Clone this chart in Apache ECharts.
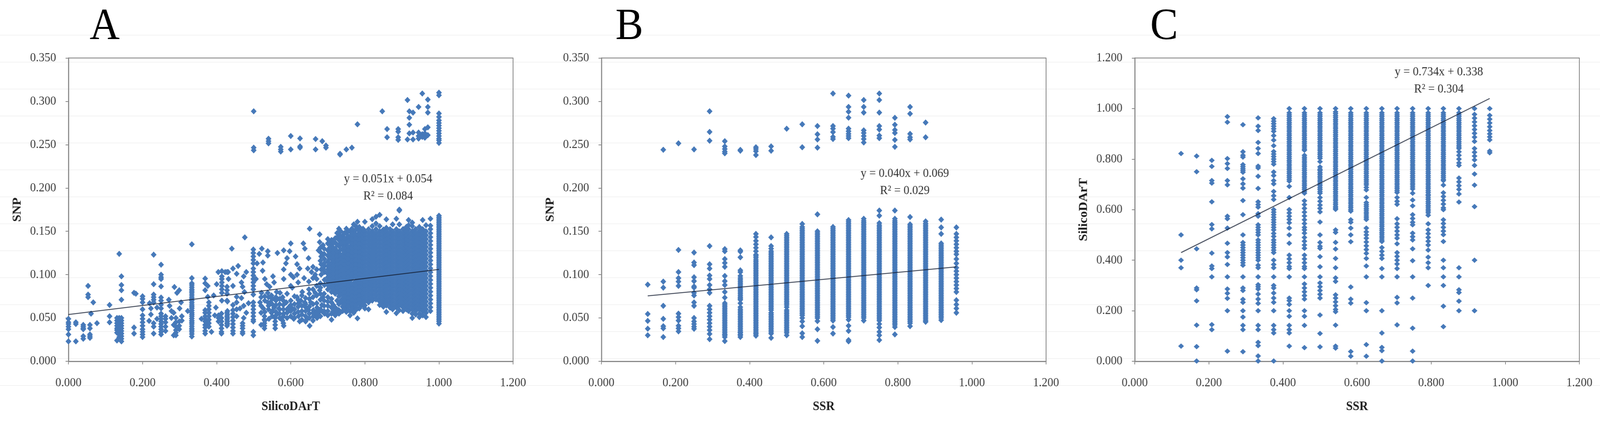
<!DOCTYPE html>
<html><head><meta charset="utf-8">
<style>html,body{margin:0;padding:0;background:#fff;overflow:hidden;width:100%;height:100%}#c{width:4419px;height:1083px;transform-origin:0 0}</style>
<script src="https://cdn.jsdelivr.net/npm/echarts@6/dist/echarts.min.js"></script>
</head><body><div id="c"></div>
<script>
const trendA=[[0,.054],[1,.106]];
const trendB=[[.125,.0755],[.958,.109]];
const trendC=[[.125,.43],[.958,1.04]];
const eqA=['y = 0.051x + 0.054','R² = 0.084'];
const eqB=['y = 0.040x + 0.069','R² = 0.029'];
const eqC=['y = 0.734x + 0.338','R² = 0.304'];
// A: SNP vs SilicoDArT, upper cluster
const dartSnpUpper=[[.5,[.2885,.2465,.2435]],[.54,[.2568,.2515,.254]],[.573,[.2475,.2445,.242]],[.6,[.26,.2445]],[.625,[.2572,.248,.2465]],[.667,[.2565,.2445]],[.685,[.254]],[.695,[.249,.2465]],[.733,[.2395,.2385]],[.75,[.2445]],[.765,[.2465]],[.78,[.2735]],[.847,[.2885]],[.86,[.268,.2585]],[.89,[.268,.265,.2585,.2555]],[.915,[.3015,.256]],[.92,[.2885,.281,.273,.263]],[.93,[.287,.264,.256]],[.945,[.2935,.264,.26,.257]],[.955,[.309,.262,.259]],[.962,[.268,.263,.258]],[.97,[.302,.2935,.287,.27,.261]],[1,[.31,.307,.286,.282,.278,.275,.272,.269,.266,.263,.26,.257,.255,.252]]];
// A: sparse low range
const dartSnpLow=[[0,[.049,.045,.043,.04,.037,.031,.023]],[.02,[.045,.043,.023]],[.04,[.042,.04,.038,.037,.029,.026]],[.053,[.087,.077,.074]],[.058,[.042,.038,.031,.029,.027]],[.061,[.055]],[.067,[.068]],[.077,[.044]],[.111,[.065,.052,.045]],[.131,[.05,.047,.044,.041,.038,.036,.033,.024]],[.137,[.124,.05,.047,.043,.039,.035,.031,.028]],[.143,[.098,.088,.082,.071,.05,.047,.044,.041,.038,.035,.032,.029,.026,.023]],[.177,[.079,.039,.032]],[.182,[.078]],[.2,[.075,.072,.068,.06,.053,.049,.045,.041,.037,.034,.031,.028]],[.219,[.067]],[.2226,[.061,.054]],[.2177,[.0466]],[.23,[.123,.089,.077,.074,.071,.068,.044,.04,.032]],[.239,[.062,.049]],[.25,[.1115,.1,.097,.095,.0864,.0736,.07,.0654,.061,.055,.052,.049,.046,.043,.04,.037,.034,.031]],[.262,[.052,.049,.045,.04,.035]],[.271,[.071]],[.273,[.064]],[.278,[.058,.05]],[.284,[.056,.042,.03]],[.286,[.0857]],[.29,[.05,.045,.04,.036,.033,.03]],[.293,[.079]],[.299,[.082,.046,.041,.037]],[.3,[.061]],[.304,[.068]],[.306,[.052,.047]],[.322,[.058]],[.333,[.135,.096,.09,.0855,.081,.0765,.072,.0675,.063,.0585,.054,.0495,.045,.0405,.036,.0315,.0286,.088,.083,.079,.074,.07,.065,.061,.056,.052,.047,.043,.038,.034]],[.359,[.049]],[.369,[.0955,.09,.082,.059,.056,.052,.049,.046,.042,.039,.035,.032]],[.376,[.087,.0744]],[.379,[.068,.064,.06,.056,.052,.048,.044,.04]],[.386,[.034]],[.392,[.076]],[.395,[.053]],[.398,[.062]],[.4,[.089]],[.4045,[.103]],[.405,[.053,.05,.046]],[.413,[.055,.05,.046,.042,.038,.034,.032]],[.414,[.104,.098,.095,.091,.087,.083,.079,.07]],[.423,[.103]],[.428,[.103,.086,.082,.078,.07,.056,.052,.048,.044,.041]],[.429,[.069,.058,.054,.05,.046,.043]],[.431,[.103]],[.432,[.095]],[.441,[.13]],[.444,[.107,.087,.065,.059,.055,.051,.047,.043,.039,.035,.032]],[.454,[.101,.0744,.068,.06,.052]],[.458,[.11]],[.463,[.061]],[.467,[.091,.073]],[.47,[.086,.044,.041,.038,.034,.032]],[.473,[.098,.064,.05]],[.475,[.08]],[.476,[.143]],[.48,[.103,.056]],[.486,[.067]],[.499,[.129,.125,.121,.117,.113,.107,.103,.099,.095,.091,.087,.083,.077,.068,.064,.06,.056,.052,.048,.046,.034,.03]],[.506,[.095]],[.509,[.113]],[.515,[.124]],[.517,[.068]],[.521,[.079]],[.522,[.13]],[.524,[.1045]],[.525,[.114]],[.526,[.061]],[.529,[.052,.048,.044,.041,.038]],[.53,[.095]],[.535,[.089]],[.538,[.127,.122,.079,.068]],[.541,[.049]],[.543,[.086]],[.545,[.068]],[.548,[.076,.056]],[.552,[.098]],[.555,[.091,.062]],[.558,[.05,.046,.042,.038]],[.562,[.08]],[.564,[.125]],[.568,[.061]],[.571,[.079]],[.578,[.074,.047]],[.581,[.128,.106,.095,.055,.041]],[.588,[.068]],[.59,[.119]],[.587,[.113]],[.594,[.062]],[.597,[.127]],[.6,[.136,.1,.087]],[.604,[.085,.061]],[.607,[.097]],[.608,[.049]],[.613,[.121]],[.617,[.112,.1,.074]],[.62,[.091]],[.621,[.067,.052]],[.624,[.107,.046]],[.627,[.07]],[.631,[.08]],[.634,[.136]],[.636,[.096]],[.638,[.13,.068]],[.641,[.062]],[.644,[.049]],[.646,[.107]],[.648,[.119,.059]],[.649,[.092,.083]],[.651,[.153,.041]],[.654,[.068]],[.656,[.103]],[.661,[.059,.052]],[.666,[.1,.079]],[.671,[.062,.05]],[.674,[.056]],[.675,[.128]],[.678,[.1465,.1375,.082]],[.682,[.121,.112,.106,.1]],[.684,[.065,.058]],[.687,[.134,.074,.107]],[.691,[.055,.118,.11,.103,.094,.088]]];
// A: further points in the lower band and around the start of the block
const dartSnpBand=[[.52,[.074,.064,.056,.042]],[.53,[.075,.07,.057,.047]],[.54,[.074,.064,.06]],[.55,[.072,.066,.058,.052]],[.56,[.074,.07,.065,.057,.053]],[.57,[.072,.066,.06,.055,.05]],[.58,[.07,.065,.06,.052,.044]],[.59,[.078,.06,.056,.05]],[.6,[.07,.065,.058,.052]],[.61,[.075,.066,.06,.055,.05]],[.62,[.071,.063,.057]],[.63,[.076,.064,.058,.054,.048]],[.64,[.073,.066,.058,.052,.046]],[.65,[.078,.072,.063,.055,.05]],[.66,[.109,.096,.083,.074,.066,.056,.047]],[.67,[.106,.095,.087,.076,.067,.058,.054]],[.68,[.131,.126,.116,.09,.085,.078,.071,.06,.052]],[.69,[.13,.124,.113,.078,.07,.064,.058]]];
// A: transition towards dense block
const dartSnpMid=[[.7,[.141,.136,.128,.122,.115,.11,.106,.101,.097,.092,.088,.083,.074,.069,.064,.058,.053]],[.71,[.14,.134,.128,.123,.118,.113,.108,.104,.099,.094,.09,.086,.08,.072,.068,.062,.055,.048]],[.72,[.142,.137,.13,.124,.119,.114,.11,.105,.1,.096,.091,.087,.083,.078,.062,.057,.053]],[.73,[.153,.146,.14,.133,.125,.12,.116,.111,.106,.102,.097,.092,.088,.084,.079,.075,.066,.059,.055]],[.74,[.145,.139,.134,.129,.123,.118,.114,.109,.104,.099,.095,.09,.086,.081,.077,.072,.067,.063,.058]],[.75,[.153,.148,.141,.135,.13,.125,.12,.115,.11,.105,.1,.094,.089,.084,.08,.075,.07,.066,.061,.057]],[.76,[.15,.143,.138,.132,.127,.122,.117,.112,.107,.103,.098,.093,.087,.083,.078,.074,.069,.064,.058,.053]],[.77,[.158,.149,.144,.139,.134,.129,.124,.119,.114,.109,.104,.1,.09,.085,.08,.076,.071,.067,.062,.056]],[.78,[.161,.154,.146,.141,.136,.131,.126,.121,.116,.111,.106,.101,.096,.091,.086,.082,.077,.072,.067,.061,.0496]],[.79,[.152,.148,.143,.138,.133,.128,.123,.118,.113,.108,.103,.099,.094,.089,.084,.079,.074,.069,.064]]];
const dartSnpMidFill=[[.705,[.138,.131,.125,.119,.1125,.108,.1035,.099,.0945,.09,.085]],[.715,[.137,.131,.1255,.1205,.1155,.1105,.106,.1015,.0965,.092,.088,.083,.065,.058]],[.725,[.148,.143,.1345,.127,.1215,.1165,.112,.1075,.1025,.098,.0935,.089,.085,.0805,.07,.06]],[.735,[.15,.143,.1365,.129,.1225,.118,.1135,.1085,.104,.0995,.0945,.09,.086,.0815,.077,.07,.057]],[.745,[.148,.142,.1365,.1315,.126,.1205,.116,.1115,.1065,.1015,.097,.092,.088,.0835,.079,.0745,.0695,.065,.06]],[.755,[.15,.1445,.138,.1325,.1275,.1225,.1175,.1125,.1075,.1025,.097,.0915,.0865,.082,.0775,.0725,.068,.0635,.059]],[.765,[.153,.1465,.141,.1355,.1305,.1255,.1205,.1155,.1105,.106,.101,.0955,.0885,.0835,.0785,.075,.07,.0655,.06]],[.775,[.156,.1515,.1465,.1415,.1365,.1315,.1265,.1215,.1165,.1115,.1065,.102,.0975,.0925,.0875,.083,.0785,.0735,.069,.0645,.059]],[.785,[.155,.15,.1455,.1405,.1355,.1305,.1255,.1205,.1155,.1105,.1055,.1005,.0955,.0905,.0855,.081,.0755,.0705,.066,.061]],[.795,[.153,.1485,.1435,.1385,.1335,.1285,.1235,.1185,.1135,.1085,.1035,.0985,.0935,.0885,.0835,.0785,.0735,.0685,.065]]];
// A: dense block
const dartSnpDense=[[.8,[.161,.15,.1455,.141,.1365,.132,.1275,.123,.1185,.114,.1095,.105,.1005,.096,.0915,.087,.0825,.078,.0735,.069,.0645,.061]],[.81,[.1525,.1478,.1433,.1388,.1343,.1298,.1253,.1208,.1163,.1118,.1073,.1028,.0983,.0938,.0893,.0848,.0803,.0758,.0713,.068,.06]],[.82,[.164,.156,.15,.1455,.141,.1365,.132,.1275,.123,.1185,.114,.1095,.105,.1005,.096,.0915,.087,.0825,.078,.0735,.07]],[.83,[.1668,.159,.1525,.1478,.1433,.1388,.1343,.1298,.1253,.1208,.1163,.1118,.1073,.1028,.0983,.0938,.0893,.0848,.0803,.0758,.0713]],[.84,[.169,.156,.15,.1455,.141,.1365,.132,.1275,.123,.1185,.114,.1095,.105,.1005,.096,.0915,.087,.0825,.078,.0735,.069,.065]],[.85,[.152,.1478,.1433,.1388,.1343,.1298,.1253,.1208,.1163,.1118,.1073,.1028,.0983,.0938,.0893,.0848,.0803,.0758,.0713,.0668,.063]],[.858,[.1638,.154,.15,.1455,.141,.1365,.132,.1275,.123,.1185,.114,.1095,.105,.1005,.096,.0915,.087,.0825,.078,.0735,.069,.0645,.057]],[.868,[.1525,.1478,.1433,.1388,.1343,.1298,.1253,.1208,.1163,.1118,.1073,.1028,.0983,.0938,.0893,.0848,.0803,.0758,.0713,.0668,.062]],[.875,[.158,.15,.1455,.141,.1365,.132,.1275,.123,.1185,.114,.1095,.105,.1005,.096,.0915,.087,.0825,.078,.0735,.069,.0645,.06]],[.885,[.1645,.1525,.1478,.1433,.1388,.1343,.1298,.1253,.1208,.1163,.1118,.1073,.1028,.0983,.0938,.0893,.0848,.0803,.0758,.0713,.0668,.0623,.0555]],[.893,[.175,.174,.158,.15,.1455,.141,.1365,.132,.1275,.123,.1185,.114,.1095,.105,.1005,.096,.0915,.087,.0825,.078,.0735,.069,.0645,.059]],[.903,[.1525,.1478,.1433,.1388,.1343,.1298,.1253,.1208,.1163,.1118,.1073,.1028,.0983,.0938,.0893,.0848,.0803,.0758,.0713,.0668,.0623,.058]],[.912,[.155,.15,.1455,.141,.1365,.132,.1275,.123,.1185,.114,.1095,.105,.1005,.096,.0915,.087,.0825,.078,.0735,.069,.0645,.06]],[.918,[.163,.157,.1525,.1478,.1433,.1388,.1343,.1298,.1253,.1208,.1163,.1118,.1073,.1028,.0983,.0938,.0893,.0848,.0803,.0758,.0713,.0668,.0623,.058]],[.928,[.16,.156,.15,.1455,.141,.1365,.132,.1275,.123,.1185,.114,.1095,.105,.1005,.096,.0915,.087,.0825,.078,.0735,.069,.0645,.06,.055,.05]],[.937,[.1525,.1478,.1433,.1388,.1343,.1298,.1253,.1208,.1163,.1118,.1073,.1028,.0983,.0938,.0893,.0848,.0803,.0758,.0713,.0668,.0623,.058,.054]],[.947,[.155,.15,.1455,.141,.1365,.132,.1275,.123,.1185,.114,.1095,.105,.1005,.096,.0915,.087,.0825,.078,.0735,.069,.0645,.06,.055,.051]],[.956,[.163,.1525,.1478,.1433,.1388,.1343,.1298,.1253,.1208,.1163,.1118,.1073,.1028,.0983,.0938,.0893,.0848,.0803,.0758,.0713,.0668,.0623,.058,.053]],[.965,[.157,.15,.1455,.141,.1365,.132,.1275,.123,.1185,.114,.1095,.105,.1005,.096,.0915,.087,.0825,.078,.0735,.069,.0645,.06,.056,.051]],[.977,[.1645,.1565,.1525,.1478,.1433,.1388,.1343,.1298,.1253,.1208,.1163,.1118,.1073,.1028,.0983,.0938,.0893,.0848,.0803,.0758,.0713,.0668,.0623,.058]],[1,[.168,.164,.16,.156,.152,.148,.144,.14,.136,.132,.128,.124,.12,.116,.112,.108,.104,.1,.096,.092,.088,.084,.08,.076,.072,.068,.064,.06,.056,.052,.048,.0435,.166,.162,.158,.154,.15,.146,.142,.138,.134,.13,.126,.122,.118,.114,.11,.106,.102,.098,.094,.09,.086,.082,.078,.074,.07,.066,.062,.058,.054,.05,.046]]];
// B: SNP vs SSR
const ssrSnp=[[.125,[.0885,.0546,.0466,.0376,.03]],[.167,[.092,.085,.064,.049,.0405,.038,.028,.2441]],[.208,[.1285,.103,.096,.092,.087,.055,.051,.047,.041,.038,.0345,.2515]],[.25,[.1255,.114,.111,.097,.0925,.0864,.085,.079,.076,.068,.064,.05,.046,.043,.04,.0375,.2445]],[.292,[.133,.112,.107,.099,.095,.088,.083,.079,.064,.06,.056,.052,.048,.044,.04,.036,.0316,.0255,.2885,.2647,.2545]],[.333,[.1295,.127,.118,.1135,.109,.0985,.0925,.088,.08,.0735,.067,.063,.059,.055,.051,.047,.043,.039,.035,.031,.028,.0233,.254,.248,.245,.242,.24]],[.375,[.128,.1265,.12,.105,.103,.0985,.094,.09,.086,.082,.078,.074,.071,.067,.0625,.058,.054,.05,.046,.042,.038,.034,.031,.028,.244,.243]],[.417,[.147,.1435,.139,.135,.131,.127,.123,.1195,.115,.111,.107,.103,.099,.095,.091,.087,.083,.079,.075,.071,.067,.063,.059,.055,.051,.047,.043,.039,.035,.0315,.0295,.247,.245,.2425,.238]],[.458,[.143,.133,.13,.127,.123,.119,.115,.111,.107,.103,.099,.095,.091,.087,.083,.079,.075,.071,.067,.063,.059,.056,.052,.048,.044,.04,.036,.032,.027,.248,.243]],[.5,[.147,.143,.139,.135,.131,.127,.123,.119,.115,.111,.107,.103,.099,.095,.091,.087,.083,.079,.075,.071,.067,.0625,.059,.055,.051,.047,.043,.039,.035,.03,.2684]],[.542,[.1585,.155,.151,.147,.143,.139,.135,.131,.127,.123,.119,.115,.111,.107,.103,.099,.095,.091,.087,.083,.079,.075,.071,.067,.063,.059,.055,.05,.046,.0405,.0323,.028,.2735,.247]],[.583,[.1696,.15,.146,.142,.138,.134,.13,.126,.122,.118,.114,.11,.106,.102,.098,.094,.09,.086,.082,.078,.074,.07,.066,.062,.058,.054,.05,.0464,.037,.0236,.2715,.262,.256,.2465]],[.625,[.155,.151,.147,.143,.139,.135,.131,.127,.123,.119,.115,.111,.107,.103,.099,.095,.091,.087,.083,.079,.075,.071,.067,.063,.059,.055,.051,.047,.0395,.032,.309,.2715,.2685,.2645,.259,.2565]],[.667,[.163,.159,.155,.151,.147,.143,.139,.135,.131,.127,.123,.119,.115,.111,.107,.103,.099,.095,.091,.087,.083,.079,.075,.071,.067,.063,.059,.055,.051,.048,.041,.035,.0245,.023,.3066,.2936,.288,.2811,.2685,.2655,.2625,.26,.2575]],[.708,[.1645,.16,.156,.152,.148,.144,.14,.136,.132,.128,.124,.12,.116,.112,.108,.104,.1,.096,.092,.088,.084,.08,.076,.072,.068,.064,.06,.056,.052,.047,.3015,.2936,.287,.2665,.2635,.26,.2565,.2525]],[.75,[.174,.168,.1595,.155,.151,.147,.143,.139,.135,.131,.127,.123,.119,.115,.111,.107,.103,.099,.095,.091,.087,.083,.079,.075,.071,.067,.063,.059,.055,.051,.047,.043,.039,.034,.03,.0245,.309,.3015,.287,.2715,.2675,.2605,.2575]],[.792,[.174,.1645,.16,.156,.152,.148,.144,.14,.136,.132,.128,.124,.12,.116,.112,.108,.104,.1,.096,.092,.088,.084,.08,.076,.072,.068,.064,.06,.056,.052,.048,.044,.0395,.031,.281,.273,.267,.2635,.2555,.2475]],[.833,[.1665,.158,.154,.15,.146,.142,.138,.134,.13,.126,.122,.118,.114,.11,.106,.102,.098,.094,.09,.086,.082,.078,.074,.07,.066,.062,.058,.054,.05,.046,.0405,.2936,.2857,.2625,.2585,.256]],[.875,[.1615,.157,.153,.149,.145,.141,.137,.133,.129,.125,.121,.117,.113,.109,.105,.101,.097,.093,.089,.085,.081,.077,.073,.069,.065,.061,.057,.053,.049,.0455,.2755,.2585]],[.917,[.1635,.1545,.147,.136,.132,.128,.124,.12,.116,.112,.108,.104,.1,.096,.092,.088,.084,.08,.076,.072,.068,.064,.06,.056,.052,.0475]],[.958,[.1545,.147,.143,.139,.135,.131,.127,.1235,.118,.113,.108,.104,.1,.096,.092,.088,.084,.08,.0705,.0655,.061,.056]]];
// B: further readings inside saturated column runs
const ssrSnpFill=[[.333,[.065,.061,.057,.053,.049,.045,.041,.037,.033,.03]],[.375,[.096,.092,.088,.084,.08,.076,.0725,.06,.056,.052,.048,.044,.04,.036,.033,.03]],[.417,[.1215,.117,.113,.109,.105,.101,.097,.093,.089,.085,.081,.077,.073,.069,.065,.061,.057,.053,.049,.045,.041,.037,.033]],[.458,[.125,.121,.117,.113,.109,.105,.101,.097,.093,.089,.085,.081,.077,.073,.069,.065,.061,.054,.05,.046,.042,.038,.034]],[.5,[.145,.141,.137,.133,.129,.125,.121,.117,.113,.109,.105,.101,.097,.093,.089,.085,.081,.077,.073,.069,.065,.057,.053,.049,.045,.041,.037,.033]],[.542,[.153,.149,.145,.141,.137,.133,.129,.125,.121,.117,.113,.109,.105,.101,.097,.093,.089,.085,.081,.077,.073,.069,.065,.061,.057,.053]],[.583,[.148,.144,.14,.136,.132,.128,.124,.12,.116,.112,.108,.104,.1,.096,.092,.088,.084,.08,.076,.072,.068,.064,.06,.056,.052]],[.625,[.153,.149,.145,.141,.137,.133,.129,.125,.121,.117,.113,.109,.105,.101,.097,.093,.089,.085,.081,.077,.073,.069,.065,.061,.057,.053,.049]],[.667,[.161,.157,.153,.149,.145,.141,.137,.133,.129,.125,.121,.117,.113,.109,.105,.101,.097,.093,.089,.085,.081,.077,.073,.069,.065,.061,.057,.053]],[.708,[.162,.158,.154,.15,.146,.142,.138,.134,.13,.126,.122,.118,.114,.11,.106,.102,.098,.094,.09,.086,.082,.078,.074,.07,.066,.062,.058,.054,.05]],[.75,[.157,.153,.149,.145,.141,.137,.133,.129,.125,.121,.117,.113,.109,.105,.101,.097,.093,.089,.085,.081,.077,.073,.069,.065,.061,.057,.053,.049]],[.792,[.162,.158,.154,.15,.146,.142,.138,.134,.13,.126,.122,.118,.114,.11,.106,.102,.098,.094,.09,.086,.082,.078,.074,.07,.066,.062,.058,.054,.05,.046,.042]],[.833,[.156,.152,.148,.144,.14,.136,.132,.128,.124,.12,.116,.112,.108,.104,.1,.096,.092,.088,.084,.08,.076,.072,.068,.064,.06,.056,.052,.048,.044]],[.875,[.159,.155,.151,.147,.143,.139,.135,.131,.127,.123,.119,.115,.111,.107,.103,.099,.095,.091,.087,.083,.079,.075,.071,.067,.063,.059,.055,.051,.047]],[.917,[.134,.13,.126,.122,.118,.114,.11,.106,.102,.098,.094,.09,.086,.082,.078,.074,.07,.066,.062,.058,.054,.05]]];
// C: SilicoDArT vs SSR
const ssrDart=[[.125,[.822,.5,.4,.37,.06]],[.167,[.812,.75,.445,.29,.283,.239,.143,.058,.001]],[.208,[.795,.771,.715,.705,.631,.541,.524,.428,.377,.367,.334,.145,.125]],[.25,[.968,.946,.802,.782,.763,.715,.698,.574,.564,.527,.467,.43,.413,.383,.334,.286,.269,.249,.2,.04]],[.292,[.936,.829,.815,.808,.778,.77,.762,.755,.748,.722,.702,.685,.636,.58,.5,.47,.46,.45,.44,.43,.42,.41,.4,.39,.38,.334,.29,.28,.245,.233,.2,.175,.142,.125,.038]],[.333,[.963,.93,.913,.866,.842,.822,.772,.765,.732,.684,.631,.62,.61,.584,.574,.54,.53,.52,.51,.5,.48,.47,.46,.45,.44,.43,.42,.41,.4,.38,.37,.334,.303,.295,.286,.266,.246,.229,.2,.142,.125,.075,.062,.021,.001]],[.375,[.96,.95,.94,.93,.92,.91,.893,.875,.853,.83,.82,.81,.8,.79,.78,.749,.735,.715,.702,.672,.655,.64,.6,.59,.58,.57,.56,.55,.54,.53,.52,.506,.494,.48,.47,.46,.45,.44,.43,.4,.383,.37,.334,.3,.29,.27,.25,.233,.2,.142,.125,.112,.001]],[.417,[1,.983,.968,.953,.938,.923,.908,.893,.878,.863,.848,.833,.818,.803,.788,.773,.758,.743,.728,.713,.692,.648,.6,.587,.574,.561,.548,.527,.5,.467,.42,.405,.39,.375,.367,.334,.25,.24,.225,.2,.178,.142,.125,.112,.06]],[.458,[1,.983,.968,.953,.938,.923,.908,.893,.878,.863,.848,.835,.815,.8,.785,.77,.755,.74,.725,.71,.695,.68,.665,.635,.62,.605,.59,.575,.56,.545,.53,.52,.507,.49,.475,.46,.447,.42,.405,.39,.375,.367,.334,.306,.29,.275,.26,.246,.2,.178,.142,.054]],[.5,[1,.983,.968,.953,.938,.923,.908,.893,.878,.863,.848,.833,.818,.803,.79,.769,.755,.74,.725,.71,.695,.68,.665,.648,.633,.618,.605,.591,.551,.5,.47,.455,.447,.414,.374,.334,.31,.295,.28,.265,.25,.183,.11,.057]],[.542,[1,.987,.972,.957,.942,.927,.912,.897,.882,.867,.852,.837,.822,.807,.792,.777,.762,.747,.732,.717,.702,.687,.672,.657,.642,.627,.612,.601,.52,.51,.4705,.444,.407,.37,.33,.316,.263,.25,.235,.22,.205,.196,.143,.06,.052]],[.583,[1,.983,.968,.953,.938,.923,.908,.893,.878,.863,.848,.833,.818,.803,.788,.773,.758,.743,.728,.713,.698,.683,.668,.653,.638,.623,.608,.594,.56,.55,.527,.5,.473,.294,.246,.23,.0385,.02]],[.625,[1,.983,.968,.953,.938,.923,.908,.893,.878,.863,.848,.833,.818,.803,.788,.773,.758,.743,.728,.713,.698,.688,.678,.648,.628,.613,.598,.583,.568,.561,.527,.512,.5,.487,.472,.457,.442,.427,.407,.377,.334,.232,.2,.066,.02]],[.667,[1,.983,.968,.953,.938,.923,.908,.893,.878,.863,.848,.833,.818,.803,.788,.773,.758,.743,.728,.713,.698,.683,.668,.653,.638,.623,.608,.593,.578,.563,.548,.533,.518,.503,.488,.474,.45,.435,.42,.407,.367,.334,.2,.112,.055,.042,.001]],[.708,[1,.983,.968,.953,.938,.923,.908,.893,.878,.863,.848,.833,.818,.803,.788,.773,.758,.743,.728,.713,.698,.683,.668,.648,.633,.621,.564,.544,.53,.515,.5,.487,.465,.43,.415,.4,.385,.367,.334,.253,.231,.144]],[.75,[1,.983,.968,.953,.938,.923,.908,.893,.878,.863,.848,.833,.818,.803,.788,.773,.758,.743,.728,.713,.698,.682,.665,.638,.615,.58,.565,.55,.54,.507,.493,.48,.445,.398,.334,.25,.131,.04,.001]],[.792,[1,.983,.968,.953,.938,.923,.908,.893,.878,.863,.848,.833,.818,.803,.788,.773,.758,.743,.728,.713,.698,.683,.668,.655,.64,.625,.61,.595,.578,.544,.52,.505,.49,.475,.46,.44,.412,.39,.37,.3]],[.833,[1,.983,.968,.953,.938,.923,.908,.893,.878,.863,.848,.833,.818,.803,.788,.773,.758,.743,.728,.715,.697,.667,.652,.637,.622,.607,.6,.56,.545,.53,.515,.501,.474,.4,.37,.334,.3,.218,.137]],[.875,[1,.983,.968,.953,.938,.923,.908,.893,.878,.863,.848,.842,.829,.815,.8,.785,.775,.725,.71,.695,.68,.662,.63,.37,.334,.283,.272,.238,.2]],[.917,[1,.977,.962,.947,.932,.917,.902,.887,.87,.842,.827,.812,.797,.775,.741,.697,.612,.4,.2]],[.958,[1,.973,.958,.943,.928,.913,.9,.888,.876,.832,.825]]];
// C: further readings inside saturated column runs
const ssrDartFill=[[.417,[.975,.96,.945,.93,.915,.9,.885,.87,.855,.84,.825,.81,.795,.78,.765,.75,.735,.72]],[.458,[.975,.96,.945,.93,.915,.9,.885,.87,.855,.84,.807,.792,.777,.762,.747,.732,.717,.702,.687,.672]],[.5,[.975,.96,.945,.93,.915,.9,.885,.87,.855,.84,.825,.81,.76,.747,.732,.717,.702,.687,.672]],[.542,[.98,.965,.95,.935,.92,.905,.89,.875,.86,.845,.83,.815,.8,.785,.77,.755,.74,.725,.71,.695,.68,.665,.65,.635,.62,.606]],[.583,[.975,.96,.945,.93,.915,.9,.885,.87,.855,.84,.825,.81,.795,.78,.765,.75,.735,.72,.705,.69,.675,.66,.645,.63,.615,.6]],[.625,[.975,.96,.945,.93,.915,.9,.885,.87,.855,.84,.825,.81,.795,.78,.765,.75,.735,.72,.705,.62,.605,.59,.575]],[.667,[.975,.96,.945,.93,.915,.9,.885,.87,.855,.84,.825,.81,.795,.78,.765,.75,.735,.72,.705,.69,.675,.66,.645,.63,.615,.6,.585,.57,.555,.54,.525,.51,.495,.48]],[.708,[.975,.96,.945,.93,.915,.9,.885,.87,.855,.84,.825,.81,.795,.78,.765,.75,.735,.72,.705,.69,.675]],[.75,[.975,.96,.945,.93,.915,.9,.885,.87,.855,.84,.825,.81,.795,.78,.765,.75,.735,.72,.705,.69]],[.792,[.975,.96,.945,.93,.915,.9,.885,.87,.855,.84,.825,.81,.795,.78,.765,.75,.735,.72,.705,.69,.675,.66,.647,.632,.617,.602,.588]],[.833,[.975,.96,.945,.93,.915,.9,.885,.87,.855,.84,.825,.81,.795,.78,.765,.75,.735,.72]],[.875,[.975,.96,.945,.93,.915,.9,.885,.87,.855]]];

const toPoints=cols=>cols.flatMap(([x,ys])=>ys.map(y=>[x,y]));
const F='"Liberation Serif",serif', TC='#3c3c3c', BLUE='#4679b9', GR='#8a8a8a';
const BLOB='path://M50 0L74 24L100 50L74 76L50 100L26 76L0 50L26 24Z';
const panels=[
 {left:189,width:1228,ymax:.35,yint:.05,xname:'SilicoDArT',yname:'SNP',pts:[...toPoints(dartSnpUpper),...toPoints(dartSnpLow),...toPoints(dartSnpBand),...toPoints(dartSnpMid),...toPoints(dartSnpMidFill),...toPoints(dartSnpDense)],trend:trendA,eq:eqA,eqx:1072,eqy:459,letter:'A',lx:289,sz:16},
 {left:1661,width:1228,ymax:.35,yint:.05,xname:'SSR',yname:'SNP',pts:[...toPoints(ssrSnp),...toPoints(ssrSnpFill)],trend:trendB,eq:eqB,eqx:2499,eqy:445,letter:'B',lx:1738,sz:16},
 {left:3134,width:1228,ymax:1.2,yint:.2,xname:'SSR',yname:'SilicoDArT',pts:[...toPoints(ssrDart),...toPoints(ssrDartFill)],trend:trendC,eq:eqC,eqx:3974,eqy:185,letter:'C',lx:3215,sz:[16,14]}
];
const TOP=148.5,H=776.5;
const grids=[],xA=[],yA=[],series=[],graphic=[];
for(let k=0;k<14;k++){graphic.push({type:'line',z:-10,silent:true,shape:{x1:0,y1:90+69*k,x2:4419,y2:90+69*k},style:{stroke:'#f3f3f3',lineWidth:2}});}
panels.forEach((p,i)=>{
 grids.push({left:p.left,top:TOP,width:p.width,height:H,show:true,borderColor:'#7a7a7a',borderWidth:2,backgroundColor:'transparent'});
 const fmt=v=>v.toFixed(3);
 xA.push({gridIndex:i,type:'value',min:0,max:1.2,interval:.2,name:p.xname,nameLocation:'middle',nameGap:100,nameTextStyle:{fontFamily:F,fontWeight:'bold',fontSize:33,color:'#222'},axisLine:{onZero:false,lineStyle:{color:GR,width:3}},axisTick:{show:true,length:8,lineStyle:{color:GR,width:2}},axisLabel:{formatter:fmt,fontFamily:F,fontSize:32,color:TC,margin:40,showMinLabel:true,showMaxLabel:true},splitLine:{show:false}});
 yA.push({gridIndex:i,type:'value',min:0,max:p.ymax,interval:p.yint,name:p.yname,nameLocation:'middle',nameGap:124,nameTextStyle:{fontFamily:F,fontWeight:'bold',fontSize:33,color:'#222'},axisLine:{show:true,onZero:false,lineStyle:{color:GR,width:3}},axisTick:{show:true,length:8,lineStyle:{color:GR,width:2}},axisLabel:{formatter:fmt,fontFamily:F,fontSize:32,color:TC,margin:34,showMinLabel:true,showMaxLabel:true},splitLine:{show:false}});
 series.push({type:'scatter',xAxisIndex:i,yAxisIndex:i,data:p.pts,symbol:BLOB,symbolSize:p.sz,clip:false,itemStyle:{color:BLUE,opacity:1},animation:false,large:false,progressive:0});
 series.push({type:'line',xAxisIndex:i,yAxisIndex:i,data:p.trend,symbol:'none',clip:false,lineStyle:{color:'rgba(20,30,50,0.75)',width:2.5},animation:false,z:5});
 graphic.push({type:'text',silent:true,x:p.lx,y:127,style:{text:p.letter,font:'115px '+F,fill:'#000',textAlign:'center',textVerticalAlign:'bottom'}});
 p.eq.forEach((t,j)=>graphic.push({type:'text',silent:true,x:p.eqx,y:p.eqy+44*j,style:{text:t,font:'32px '+F,fill:'#333',textAlign:'center',textVerticalAlign:'middle'}}));
});
// The photographed window can be narrower than the 4419-wide layout: fit the layout to it.
const box=document.getElementById('c');
const sx=Math.min(1,window.innerWidth/4419), sy=Math.min(1,window.innerHeight/1083);
box.style.transform='scale('+sx+','+sy+')';
const chart=echarts.init(box,null,{renderer:'canvas',width:4419,height:1083});
chart.setOption({animation:false,backgroundColor:'#fff',grid:grids,xAxis:xA,yAxis:yA,series,graphic,tooltip:{show:false},legend:{show:false}});
</script></body></html>
